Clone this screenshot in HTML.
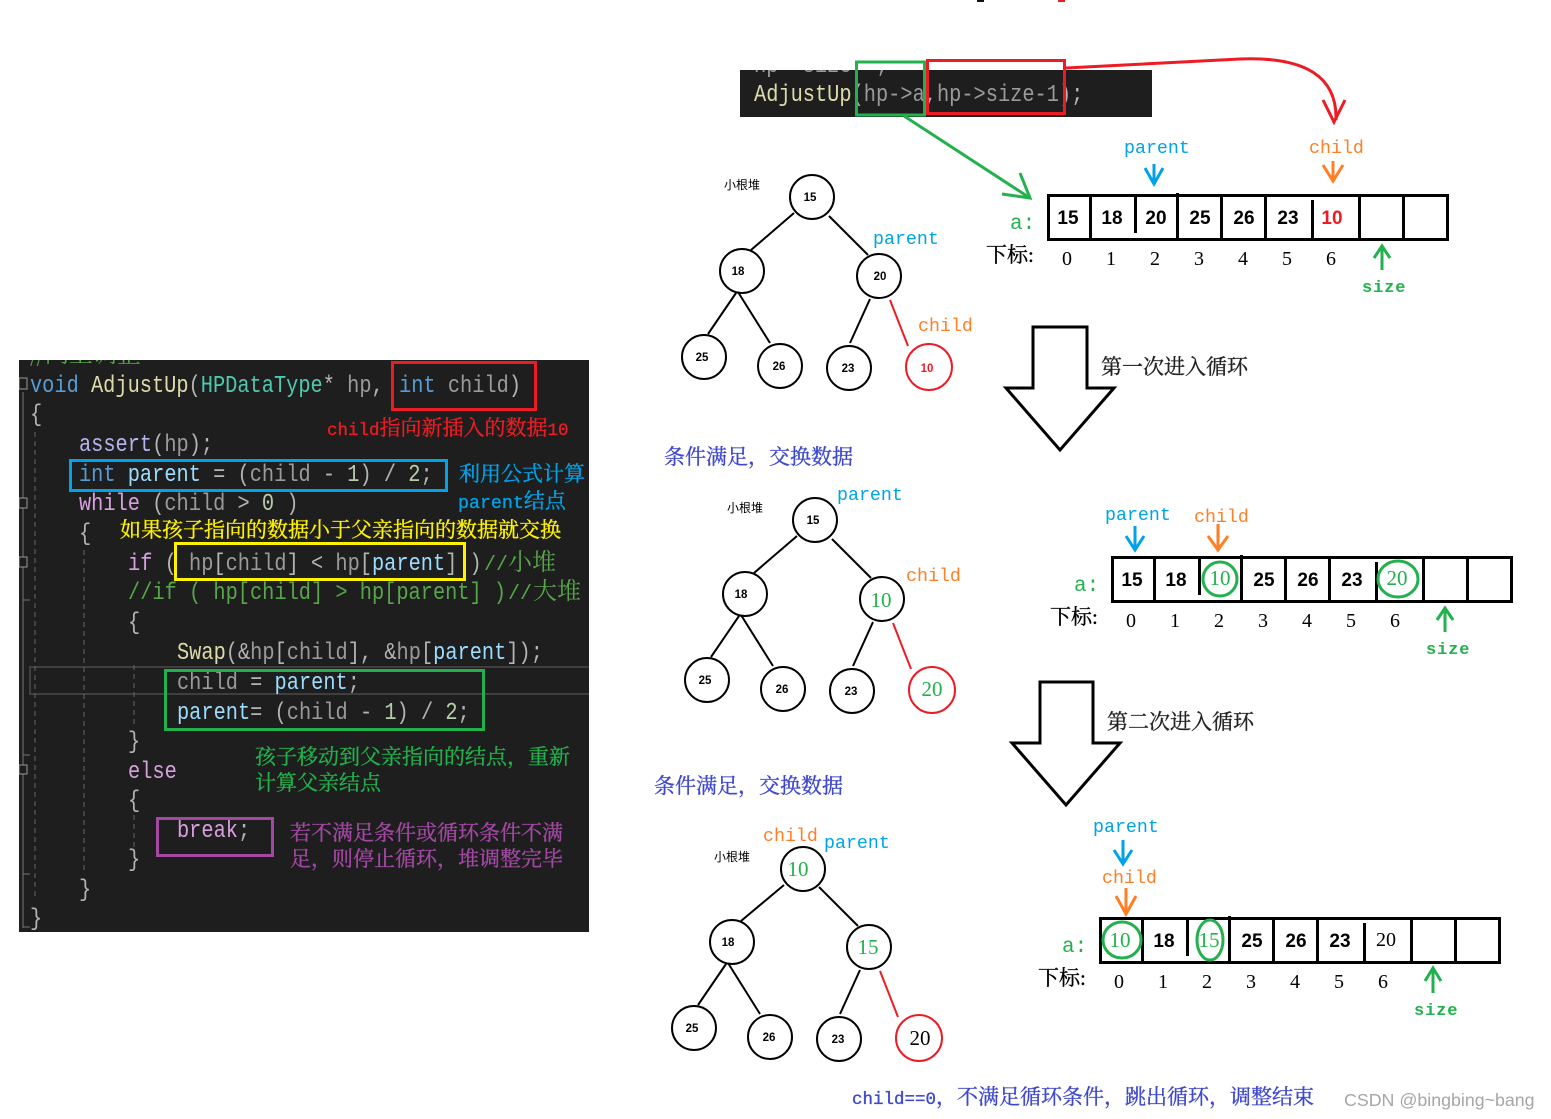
<!DOCTYPE html>
<html><head><meta charset="utf-8">
<style>
html,body{margin:0;padding:0;background:#fff}
svg{display:block}
text{white-space:pre}
.c{font-family:"Liberation Mono","Noto Serif CJK SC",monospace;font-size:24px}
.h{font-family:"Noto Serif CJK SC",serif;font-size:24px;fill:#57a64a}
.m{font-family:"Liberation Mono",monospace;font-size:20px;fill:#57a64a}
.z{font-family:"Liberation Serif","Noto Serif CJK SC",serif;font-weight:400;font-size:21px;fill:currentColor;stroke:currentColor;stroke-width:.35}
.z tspan{font-family:"Liberation Mono",monospace;font-size:17.500px}
.l{font-family:"Liberation Mono",monospace;font-size:18.3px}
.n{font-family:"Liberation Sans",sans-serif;font-size:11.500px;font-weight:700;text-anchor:middle}
.b{font-family:"Liberation Sans",sans-serif;font-size:19px;font-weight:700;text-anchor:middle}
.i{font-family:"Liberation Serif",serif;font-size:20px;text-anchor:middle}
.g{font-family:"Liberation Serif",serif;font-size:21px;text-anchor:middle;fill:#22b14c}
.s{font-family:"Liberation Sans","Noto Sans CJK SC",sans-serif;font-size:12px}
.t{fill:none;stroke:#000;stroke-width:2}
.kw{fill:#569cd6}.fn{fill:#dcdcaa}.ty{fill:#4ec9b0}.pa{fill:#9a9a9a}.pu{fill:#b4b4b4}.ct{fill:#d8a0df}.lo{fill:#9cdcfe}.nu{fill:#b5cea8}.cm{fill:#57a64a}.me{fill:#b4b4f0}
</style></head>
<body>
<svg width="1551" height="1119" viewBox="0 0 1551 1119" xmlns="http://www.w3.org/2000/svg">
<defs>
<clipPath id="c1"><rect x="19" y="360" width="570" height="572"/></clipPath>
<clipPath id="c2"><rect x="740" y="70" width="412" height="47"/></clipPath>
</defs>
<rect width="1551" height="1119" fill="#fff"/>
<rect x="977" y="0" width="7" height="2" fill="#111"/>
<rect x="1058" y="0" width="7" height="2" fill="#ed1c24"/>

<!-- left code panel -->
<rect x="19" y="360" width="570" height="572" fill="#1e1e1e"/>
<g clip-path="url(#c1)">
<text class="h" x="30" y="362">//向上调整</text>
<rect x="30" y="667" width="570" height="27" fill="none" stroke="#3f3f3f" stroke-width="2"/>
<g fill="none" stroke="#666" stroke-width="1">
<path d="M35 432V900M84 550V872" stroke-dasharray="5 4"/>
<path d="M134 665V728M134 815V847" stroke-dasharray="5 4"/>
</g>
<path d="M23 392V928M23 927H30M23 874H30M23 755H30M23 600H30" stroke="#777" fill="none"/>
<g fill="#1e1e1e" stroke="#999"><rect x="19" y="378" width="8" height="11"/><rect x="19" y="498" width="8" height="10"/><rect x="19" y="557" width="8" height="10"/><rect x="19" y="765" width="8" height="9"/></g>
<g transform="scale(.8472,1)">
<text class="c" x="35.400" y="392"><tspan class="kw">void</tspan><tspan class="pu"> </tspan><tspan class="fn">AdjustUp</tspan><tspan class="pu">(</tspan><tspan class="ty">HPDataType</tspan><tspan class="pu">* </tspan><tspan class="pa">hp</tspan><tspan class="pu">, </tspan></text>
<text class="c" x="471" y="392"><tspan class="kw">int</tspan><tspan class="pa"> child</tspan><tspan class="pu">)</tspan></text>
<text class="c pu" x="35.400" y="421">{</text>
<text class="c" x="93.200" y="451"><tspan class="me">assert</tspan><tspan class="pu">(</tspan><tspan class="pa">hp</tspan><tspan class="pu">);</tspan></text>
<text class="c" x="93.200" y="481"><tspan class="kw">int</tspan><tspan class="pu"> </tspan><tspan class="lo">parent</tspan><tspan class="pu"> = (</tspan><tspan class="pa">child</tspan><tspan class="pu"> - </tspan><tspan class="nu">1</tspan><tspan class="pu">) / </tspan><tspan class="nu">2</tspan><tspan class="pu">;</tspan></text>
<text class="c" x="93.200" y="510"><tspan class="ct">while</tspan><tspan class="pu"> (</tspan><tspan class="pa">child</tspan><tspan class="pu"> &gt; </tspan><tspan class="nu">0</tspan><tspan class="pu"> )</tspan></text>
<text class="c pu" x="93.200" y="540">{</text>
<text class="c" x="151.100" y="570"><tspan class="ct">if</tspan><tspan class="pu"> ( </tspan><tspan class="pa">hp</tspan><tspan class="pu">[</tspan><tspan class="pa">child</tspan><tspan class="pu">] &lt; </tspan><tspan class="pa">hp</tspan><tspan class="pu">[</tspan><tspan class="lo">parent</tspan><tspan class="pu">] )</tspan></text>
<text class="c cm" x="151.100" y="599">//if ( hp[child] &gt; hp[parent] )</text>
<text class="c pu" x="151.100" y="629">{</text>
<text class="c" x="208.900" y="659"><tspan class="fn">Swap</tspan><tspan class="pu">(&amp;</tspan><tspan class="pa">hp</tspan><tspan class="pu">[</tspan><tspan class="pa">child</tspan><tspan class="pu">], &amp;</tspan><tspan class="pa">hp</tspan><tspan class="pu">[</tspan><tspan class="lo">parent</tspan><tspan class="pu">]);</tspan></text>
<text class="c" x="208.900" y="689"><tspan class="pa">child</tspan><tspan class="pu"> = </tspan><tspan class="lo">parent</tspan><tspan class="pu">;</tspan></text>
<text class="c" x="208.900" y="719"><tspan class="lo">parent</tspan><tspan class="pu">= (</tspan><tspan class="pa">child</tspan><tspan class="pu"> - </tspan><tspan class="nu">1</tspan><tspan class="pu">) / </tspan><tspan class="nu">2</tspan><tspan class="pu">;</tspan></text>
<text class="c pu" x="151.100" y="748">}</text>
<text class="c ct" x="151.100" y="778">else</text>
<text class="c pu" x="151.100" y="807">{</text>
<text class="c" x="208.900" y="837"><tspan class="ct">break</tspan><tspan class="pu">;</tspan></text>
<text class="c pu" x="151.100" y="866">}</text>
<text class="c pu" x="93.200" y="896">}</text>
<text class="c pu" x="35.400" y="925">}</text>
</g>
<text class="m" x="484" y="570">//</text><text class="h" x="508" y="570">小堆</text>
<text class="m" x="508" y="599">//</text><text class="h" x="533" y="599">大堆</text>
</g>
<g fill="none" stroke-width="3">
<rect x="392.500" y="362.500" width="143" height="47" stroke="#ed1c24"/>
<rect x="70.500" y="460.500" width="376" height="30" stroke="#00a2e8"/>
<rect x="175.500" y="543.500" width="289" height="36" stroke="#fff200"/>
<rect x="165.500" y="670.500" width="318" height="59" stroke="#22b14c"/>
<rect x="157.500" y="818.500" width="115" height="37" stroke="#a349a4"/>
</g>
<text class="z" x="327" y="435" color="#ed1c24"><tspan>child</tspan>指向新插入的数据<tspan>10</tspan></text>
<text class="z" x="459" y="481" color="#00a2e8">利用公式计算</text>
<text class="z" x="458" y="508" color="#00a2e8"><tspan font-size="18.3" style="font-size:18.3px">parent</tspan>结点</text>
<text class="z" x="120" y="537" color="#fff200">如果孩子指向的数据小于父亲指向的数据就交换</text>
<text class="z" x="255" y="764" color="#22b14c">孩子移动到父亲指向的结点，重新</text>
<text class="z" x="255" y="790" color="#22b14c">计算父亲结点</text>
<text class="z" x="290" y="840" color="#a349a4">若不满足条件或循环条件不满</text>
<text class="z" x="290" y="866" color="#a349a4">足，则停止循环，堆调整完毕</text>

<!-- top code panel -->
<rect x="740" y="70" width="412" height="47" fill="#1e1e1e"/>
<g clip-path="url(#c2)"><g transform="scale(.8472,1)">
<text class="c pa" x="890" y="72">hp-&gt;size++;</text>
<text class="c" x="890" y="101"><tspan class="fn">AdjustUp</tspan><tspan class="pu">(</tspan><tspan class="pa">hp-&gt;a</tspan><tspan class="pu">,</tspan><tspan class="pa">hp-&gt;size-1</tspan><tspan class="pu">);</tspan></text>
</g></g>
<rect x="856.500" y="62" width="68" height="53" fill="none" stroke="#22b14c" stroke-width="3"/>
<rect x="927.500" y="60.500" width="137" height="53" fill="none" stroke="#ed1c24" stroke-width="3"/>
<path d="M1066 68L1240 59Q1338 55 1336 120" fill="none" stroke="#ed1c24" stroke-width="3"/>
<path d="M1323 100L1334 122L1345 100" fill="none" stroke="#ed1c24" stroke-width="3"/>
<path d="M904 116L1030 198M1020 173L1030 198L1002 194" fill="none" stroke="#22b14c" stroke-width="3"/>

<!-- array 1 -->
<text class="l" x="1124" y="153" fill="#00a2e8">parent</text>
<text class="l" x="1309" y="153" fill="#ff7f27">child</text>
<path d="M1154 164V184M1145 168L1154 184L1163 168" fill="none" stroke="#00a2e8" stroke-width="3"/>
<path d="M1333 161V181M1323 165L1333 181L1343 165" fill="none" stroke="#ff7f27" stroke-width="3"/>
<rect x="1048.500" y="195.500" width="399" height="44" fill="none" stroke="#000" stroke-width="3"/>
<path d="M1090.500 195V239M1135.500 195V233M1177.500 193V239M1221.500 195V239M1265.500 195V239M1312.500 200V239M1359.500 195V239M1403.500 195V239" stroke="#000" stroke-width="3" fill="none"/>
<text class="b" x="1068" y="224">15</text><text class="b" x="1112" y="224">18</text><text class="b" x="1156" y="224">20</text><text class="b" x="1200" y="224">25</text><text class="b" x="1244" y="224">26</text><text class="b" x="1288" y="224">23</text><text class="b" x="1332" y="224" fill="#ed1c24">10</text>
<text class="l" x="1010" y="229" fill="#22b14c" style="font-size:21px">a:</text>
<text class="z" x="986" y="262" color="#000">下标:</text>
<text class="i" x="1067" y="265">0</text><text class="i" x="1111" y="265">1</text><text class="i" x="1155" y="265">2</text><text class="i" x="1199" y="265">3</text><text class="i" x="1243" y="265">4</text><text class="i" x="1287" y="265">5</text><text class="i" x="1331" y="265">6</text>
<path d="M1382 270V246M1374 258L1382 246L1390 258" fill="none" stroke="#22b14c" stroke-width="3"/>
<text class="l" x="1362" y="292" fill="#22b14c" style="font-size:17px;font-weight:700;letter-spacing:.9px">size</text>

<!-- big arrows -->
<path d="M1033 327H1087V388H1114L1060 450L1006 388H1033Z" fill="#fff" stroke="#000" stroke-width="3"/>
<path d="M1040 682H1093V743H1120L1066 805L1012 743H1040Z" fill="#fff" stroke="#000" stroke-width="3"/>
<text class="z" x="1101" y="374" color="#222">第一次进入循环</text>
<text class="z" x="1107" y="729" color="#222">第二次进入循环</text>

<!-- tree 1 -->
<text class="s" x="724" y="189">小根堆</text>
<g class="t">
<circle cx="812" cy="197" r="22"/><circle cx="742" cy="271" r="22"/><circle cx="879" cy="276" r="22"/><circle cx="704" cy="357" r="22"/><circle cx="780" cy="366" r="22"/><circle cx="849" cy="368" r="22"/>
<path d="M794 213L751 250M829 216L868 255M736 293L708 334M738 292L770 343M870 299L850 343"/>
</g>
<circle cx="929" cy="367" r="23" fill="none" stroke="#ed1c24" stroke-width="2"/>
<path d="M890 300L908 346" stroke="#ed1c24" stroke-width="2"/>
<text class="n" x="810" y="201">15</text><text class="n" x="738" y="275">18</text><text class="n" x="880" y="280">20</text><text class="n" x="702" y="361">25</text><text class="n" x="779" y="370">26</text><text class="n" x="848" y="372">23</text><text class="n" x="927" y="372" fill="#ed1c24">10</text>
<text class="l" x="873" y="244" fill="#00a2e8">parent</text>
<text class="l" x="918" y="331" fill="#ff7f27">child</text>

<text class="z" x="664" y="464" color="#3f48cc">条件满足，交换数据</text>

<!-- tree 2 -->
<text class="s" x="727" y="512">小根堆</text>
<g class="t">
<circle cx="815" cy="520" r="22"/><circle cx="745" cy="594" r="22"/><circle cx="882" cy="599" r="22"/><circle cx="707" cy="680" r="22"/><circle cx="783" cy="689" r="22"/><circle cx="852" cy="691" r="22"/>
<path d="M797 536L754 573M832 539L871 578M739 616L711 657M741 615L773 666M873 622L853 666"/>
</g>
<circle cx="932" cy="690" r="23" fill="none" stroke="#ed1c24" stroke-width="2"/>
<path d="M893 623L911 669" stroke="#ed1c24" stroke-width="2"/>
<text class="n" x="813" y="524">15</text><text class="n" x="741" y="598">18</text><text class="g" x="881" y="607">10</text><text class="n" x="705" y="684">25</text><text class="n" x="782" y="693">26</text><text class="n" x="851" y="695">23</text><text class="g" x="932" y="696">20</text>
<text class="l" x="837" y="500" fill="#00a2e8">parent</text>
<text class="l" x="906" y="581" fill="#ff7f27">child</text>

<!-- array 2 -->
<text class="l" x="1105" y="520" fill="#00a2e8">parent</text>
<text class="l" x="1194" y="522" fill="#ff7f27">child</text>
<path d="M1135 526V550M1126 536L1135 550L1144 536" fill="none" stroke="#00a2e8" stroke-width="3"/>
<path d="M1218 524V550M1208 536L1218 550L1228 536" fill="none" stroke="#ff7f27" stroke-width="3"/>
<rect x="1112.500" y="557.500" width="399" height="44" fill="none" stroke="#000" stroke-width="3"/>
<path d="M1154.500 557V601M1199.500 557V595M1241.500 555V601M1285.500 557V601M1329.500 557V601M1376.500 562V601M1423.500 557V601M1467.500 557V601" stroke="#000" stroke-width="3" fill="none"/>
<text class="b" x="1132" y="586">15</text><text class="b" x="1176" y="586">18</text><text class="g" x="1220" y="585">10</text><text class="b" x="1264" y="586">25</text><text class="b" x="1308" y="586">26</text><text class="b" x="1352" y="586">23</text><text class="g" x="1397" y="585">20</text>
<ellipse cx="1220" cy="579" rx="17" ry="17" fill="none" stroke="#22b14c" stroke-width="3"/>
<ellipse cx="1398" cy="579" rx="20" ry="18" fill="none" stroke="#22b14c" stroke-width="3"/>
<text class="l" x="1074" y="591" fill="#22b14c" style="font-size:21px">a:</text>
<text class="z" x="1050" y="624" color="#000">下标:</text>
<text class="i" x="1131" y="627">0</text><text class="i" x="1175" y="627">1</text><text class="i" x="1219" y="627">2</text><text class="i" x="1263" y="627">3</text><text class="i" x="1307" y="627">4</text><text class="i" x="1351" y="627">5</text><text class="i" x="1395" y="627">6</text>
<path d="M1445 632V608M1437 620L1445 608L1453 620" fill="none" stroke="#22b14c" stroke-width="3"/>
<text class="l" x="1426" y="654" fill="#22b14c" style="font-size:17px;font-weight:700;letter-spacing:.9px">size</text>

<text class="z" x="654" y="793" color="#3f48cc">条件满足，交换数据</text>

<!-- tree 3 -->
<text class="s" x="714" y="861">小根堆</text>
<g class="t">
<circle cx="803" cy="869" r="22"/><circle cx="732" cy="942" r="22"/><circle cx="869" cy="947" r="22"/><circle cx="694" cy="1028" r="22"/><circle cx="770" cy="1037" r="22"/><circle cx="839" cy="1039" r="22"/>
<path d="M784 885L741 921M819 887L858 926M726 964L698 1005M728 963L760 1014M860 970L840 1014"/>
</g>
<circle cx="919" cy="1038" r="23" fill="none" stroke="#ed1c24" stroke-width="2"/>
<path d="M880 971L898 1017" stroke="#ed1c24" stroke-width="2"/>
<text class="g" x="798" y="876">10</text><text class="n" x="728" y="946">18</text><text class="g" x="868" y="954">15</text><text class="n" x="692" y="1032">25</text><text class="n" x="769" y="1041">26</text><text class="n" x="838" y="1043">23</text>
<text class="i" x="920" y="1045" style="font-size:21px">20</text>
<text class="l" x="763" y="841" fill="#ff7f27">child</text>
<text class="l" x="824" y="848" fill="#00a2e8">parent</text>

<!-- array 3 -->
<text class="l" x="1093" y="832" fill="#00a2e8">parent</text>
<path d="M1123 840V864M1114 850L1123 864L1132 850" fill="none" stroke="#00a2e8" stroke-width="3"/>
<text class="l" x="1102" y="883" fill="#ff7f27">child</text>
<path d="M1126 888V914M1116 896L1126 914L1136 896" fill="none" stroke="#ff7f27" stroke-width="3"/>
<rect x="1100.500" y="918.500" width="399" height="44" fill="none" stroke="#000" stroke-width="3"/>
<path d="M1142.500 918V962M1187.500 918V956M1229.500 916V962M1273.500 918V962M1317.500 918V962M1364.500 923V962M1411.500 918V962M1455.500 918V962" stroke="#000" stroke-width="3" fill="none"/>
<text class="g" x="1120" y="947">10</text><text class="b" x="1164" y="947">18</text><text class="g" x="1209" y="947">15</text><text class="b" x="1252" y="947">25</text><text class="b" x="1296" y="947">26</text><text class="b" x="1340" y="947">23</text><text class="i" x="1386" y="946">20</text>
<ellipse cx="1122" cy="940" rx="19" ry="18" fill="none" stroke="#22b14c" stroke-width="3"/>
<ellipse cx="1210" cy="940" rx="13" ry="20" fill="none" stroke="#22b14c" stroke-width="3"/>
<text class="l" x="1062" y="952" fill="#22b14c" style="font-size:21px">a:</text>
<text class="z" x="1038" y="985" color="#000">下标:</text>
<text class="i" x="1119" y="988">0</text><text class="i" x="1163" y="988">1</text><text class="i" x="1207" y="988">2</text><text class="i" x="1251" y="988">3</text><text class="i" x="1295" y="988">4</text><text class="i" x="1339" y="988">5</text><text class="i" x="1383" y="988">6</text>
<path d="M1433 993V968M1425 981L1433 968L1441 981" fill="none" stroke="#22b14c" stroke-width="3"/>
<text class="l" x="1414" y="1015" fill="#22b14c" style="font-size:17px;font-weight:700;letter-spacing:.9px">size</text>

<text class="z" x="852" y="1104" color="#3f48cc"><tspan>child==0</tspan>，不满足循环条件，跳出循环，调整结束</text>
<text x="1344" y="1106" font-family="Liberation Sans, sans-serif" font-size="17.800" fill="#a6a6a6">CSDN @bingbing~bang</text>
</svg>
</body></html>
